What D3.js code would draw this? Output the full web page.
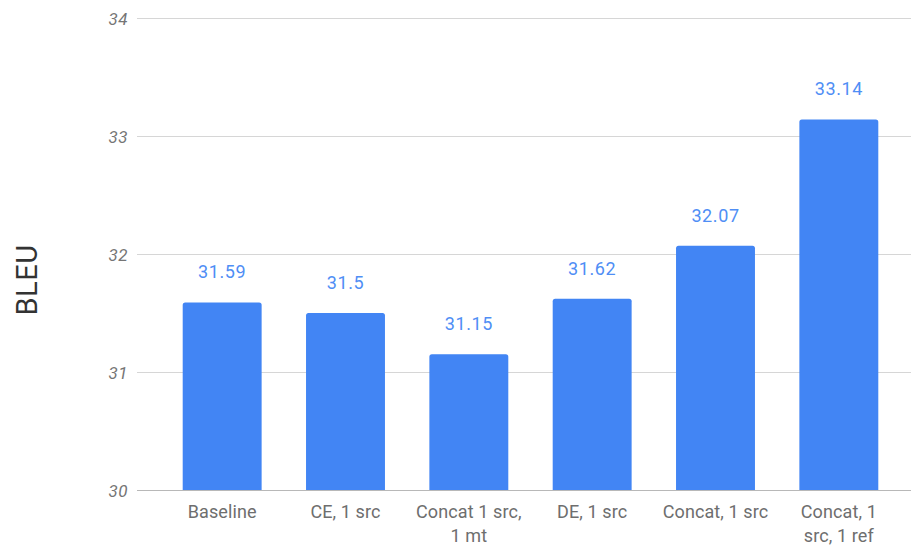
<!DOCTYPE html>
<html>
<head>
<meta charset="utf-8">
<script src="https://cdn.jsdelivr.net/npm/d3@7"></script>
<style>
  body { margin: 0; background: #fff; }
  text { font-family: Roboto, "Noto Sans", sans-serif; }
</style>
</head>
<body>
<div id="chart"></div>
<script>
const categories = ["Baseline", "CE, 1 src", "Concat 1 src,\n1 mt", "DE, 1 src", "Concat, 1 src", "Concat, 1\nsrc, 1 ref"];
const bleu = [31.59, 31.5, 31.15, 31.62, 32.07, 33.14];
const yTicks = [30, 31, 32, 33, 34];

const width = 913, height = 548;

let svg = d3.select("#chart")
    .append("svg")
    .attr("width", width)
    .attr("height", height);

let x = d3.scaleBand()
    .domain(categories)
    .range([160.5, 900.5])
    .paddingInner(0.36)
    .paddingOuter(0.18);

let y = d3.scaleLinear()
    .domain([30, 34])
    .range([490, 18]);

// gridlines + tick labels
let yAxis = svg.append("g")
    .attr("transform", "translate(137,0)")
    .call(d3.axisLeft(y).tickValues(yTicks).tickSize(-774).tickPadding(9).tickFormat(d3.format("d")));
yAxis.select(".domain").remove();
yAxis.selectAll(".tick line")
    .attr("stroke", function(d) { return d === 30 ? "#b8b8b8" : "#d6d6d6"; })
    .attr("stroke-width", 1.2);
yAxis.selectAll(".tick text")
    .attr("fill", "#757575")
    .attr("dy", "0.36em")
    .style("font-size", "17px")
    .style("letter-spacing", "0.5px")
    .style("font-style", "italic")
    .style("font-family", "Roboto, sans-serif");

svg.append("text")
    .attr("transform", "translate(36.5, 280) rotate(-90)")
    .style("text-anchor", "middle")
    .style("font-size", "29px")
    .style("letter-spacing", "0.5px")
    .attr("fill", "#333")
    .text("BLEU");

const data = categories.map(function(c, i) { return {name: c, value: bleu[i]}; });

function topRounded(x0, y0, w, h, r) {
    return `M${x0},${y0 + h} V${y0 + r} Q${x0},${y0} ${x0 + r},${y0} H${x0 + w - r} Q${x0 + w},${y0} ${x0 + w},${y0 + r} V${y0 + h} Z`;
}

svg.append("g").selectAll("path")
    .data(data)
    .enter()
    .append("path")
    .attr("fill", "#4285f4")
    .attr("d", function(d) {
        return topRounded(x(d.name), y(d.value), x.bandwidth(), y(30) - y(d.value), 2.5);
    });

svg.append("g").selectAll("text")
    .data(data)
    .enter()
    .append("text")
    .attr("x", function(d) { return x(d.name) + x.bandwidth() / 2; })
    .attr("y", function(d) { return y(d.value) - 24; })
    .style("text-anchor", "middle")
    .style("font-size", "18px")
    .style("letter-spacing", "0.6px")
    .attr("fill", "#4f8ef5")
    .text(function(d) { return d.value; });

// category labels
let xl = svg.append("g").selectAll("text")
    .data(categories)
    .enter()
    .append("text")
    .attr("x", function(d) { return x(d) + x.bandwidth() / 2; })
    .attr("y", 517.5)
    .style("text-anchor", "middle")
    .style("font-size", "18px")
    .style("letter-spacing", "0.1px")
    .attr("fill", "#6e6e6e");
xl.each(function(d) {
    let t = d3.select(this);
    d.split("\n").forEach(function(line, i) {
        t.append("tspan")
            .attr("x", x(d) + x.bandwidth() / 2)
            .attr("dy", i === 0 ? 0 : 24)
            .text(line);
    });
});
</script>
</body>
</html>
